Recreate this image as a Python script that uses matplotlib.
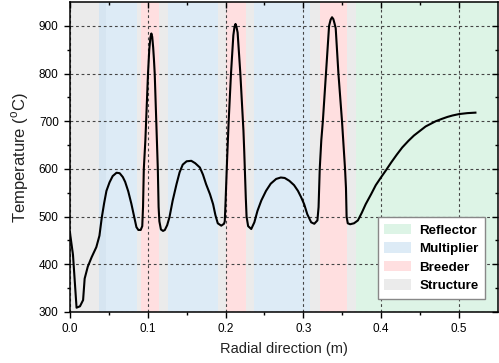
import matplotlib
matplotlib.use("Agg")
import matplotlib.pyplot as plt
from matplotlib.patches import Patch

plt.rcParams['font.family'] = ['Liberation Sans', 'DejaVu Sans']
plt.rcParams['mathtext.fontset'] = 'custom'
plt.rcParams['mathtext.rm'] = 'Liberation Sans'

# === temperature profile ===
radius = [0.000, 0.004, 0.0086, 0.013, 0.017, 0.019, 0.023, 0.028, 0.034, 0.038,
          0.041, 0.044, 0.047, 0.051, 0.055, 0.060, 0.064, 0.068, 0.071, 0.075,
          0.079, 0.083, 0.0855, 0.088, 0.091, 0.093, 0.094, 0.095, 0.097, 0.098,
          0.1004, 0.102, 0.1035, 0.1047, 0.1058, 0.107, 0.108, 0.109, 0.111, 0.113, 0.114,
          0.115, 0.117, 0.1197, 0.122, 0.125, 0.128, 0.132, 0.137, 0.141, 0.145,
          0.150, 0.156, 0.161, 0.167, 0.171, 0.175, 0.180, 0.184, 0.187, 0.190,
          0.1945, 0.198, 0.199, 0.200, 0.202, 0.204, 0.207, 0.210, 0.2115, 0.2128, 0.214,
          0.2155, 0.217, 0.219, 0.221, 0.223, 0.224, 0.226, 0.227, 0.229, 0.233, 0.237,
          0.241, 0.246, 0.252, 0.258, 0.265, 0.271, 0.276, 0.282, 0.288, 0.293,
          0.297, 0.301, 0.305, 0.310, 0.314, 0.318, 0.3195, 0.321, 0.323, 0.325,
          0.329, 0.333, 0.335, 0.3368, 0.3385, 0.340, 0.3415, 0.345, 0.3496, 0.3535,
          0.3547, 0.3555, 0.357, 0.360, 0.365, 0.370, 0.375, 0.380, 0.387, 0.393,
          0.400, 0.406, 0.413, 0.420, 0.427, 0.435, 0.442, 0.449, 0.457, 0.464,
          0.470, 0.478, 0.485, 0.4915, 0.500, 0.5107, 0.521]
temperature = [468, 420, 309, 312, 325, 370, 395, 415, 436, 460,
               498, 528, 554, 572, 585, 592, 591, 583, 573, 553,
               527, 497, 478, 472, 472, 480, 520, 600, 660, 700,
               800, 850, 876, 884, 877, 855, 830, 800, 700, 600, 520,
               490, 473, 470, 472, 482, 499, 533, 568, 593, 609,
               616, 617, 612, 603, 588, 568, 547, 526, 503, 486,
               481, 485, 490, 530, 620, 700, 800, 880, 898, 904, 898,
               886, 850, 800, 740, 680, 637, 540, 500, 480, 474, 488,
               512, 534, 554, 569, 579, 582, 581, 575, 566, 554,
               541, 526, 505, 488, 485, 492, 520, 600, 660, 700,
               800, 900, 913, 918, 914, 905, 895, 800, 700, 600,
               560, 500, 486, 484, 486, 492, 508, 526, 547, 566,
               583, 597, 614, 630, 645, 659, 670, 679, 689, 695,
               700, 705, 709, 712, 715, 717, 718]

# === material zones (start, end, kind) ===
zone_start = [0.000, 0.037, 0.046, 0.086, 0.092, 0.114, 0.126, 0.190, 0.201, 0.226,
              0.237, 0.308, 0.321, 0.356, 0.368]
zone_end = [0.037, 0.046, 0.086, 0.092, 0.114, 0.126, 0.190, 0.201, 0.226, 0.237,
            0.308, 0.321, 0.356, 0.368, 0.550]
zone_kind = ['Structure', 'Multiplier2', 'Multiplier', 'Structure', 'Breeder', 'Structure',
             'Multiplier', 'Structure', 'Breeder', 'Structure', 'Multiplier', 'Structure',
             'Breeder', 'Structure', 'Reflector']

colors = {'Reflector': '#ddf4e6', 'Multiplier': '#ddebf6', 'Multiplier2': '#d6e5f1',
          'Breeder': '#ffdfe0', 'Structure': '#ebebeb'}
legend_order = ['Reflector', 'Multiplier', 'Breeder', 'Structure']

fig = plt.figure(figsize=(4.99, 3.63), dpi=100)
ax = fig.add_axes([0.140, 0.1405, 0.858, 0.854])

for s, e, k in zip(zone_start, zone_end, zone_kind):
    ax.axvspan(s, e, color=colors[k], lw=0, zorder=0)

ax.plot(radius, temperature, color='black', lw=1.5, zorder=3)

ax.set_xlim(0, 0.55)
ax.set_ylim(300, 950)
ax.set_xticks([0.0, 0.1, 0.2, 0.3, 0.4, 0.5])
ax.set_xticks([0.05, 0.15, 0.25, 0.35, 0.45], minor=True)
ax.set_yticks([300, 400, 500, 600, 700, 800, 900])
ax.set_yticks([350, 450, 550, 650, 750, 850], minor=True)
ax.set_xticklabels(['0.0', '0.1', '0.2', '0.3', '0.4', '0.5'])

ax.grid(True, which='major', color='#444444', lw=0.8, ls=(0, (2.5, 2.5)), zorder=1)
ax.set_axisbelow(False)

ax.tick_params(which='both', direction='out', labelsize=8.5, width=1, colors='black')
ax.tick_params(which='major', length=4.5)
ax.tick_params(which='minor', length=2.5)
ax.tick_params(which='both', top=True, right=True)
# top and right ticks point into the plot
for t in ax.xaxis.get_ticklines(minor=False)[1::2] + ax.xaxis.get_ticklines(minor=True)[1::2]:
    t.set_marker(3)
for t in ax.yaxis.get_ticklines(minor=False)[1::2] + ax.yaxis.get_ticklines(minor=True)[1::2]:
    t.set_marker(0)

for sp in ax.spines.values():
    sp.set_linewidth(1.1)
    sp.set_zorder(5)

ax.set_xlabel('Radial direction (m)', fontsize=10.5, color='#222222', labelpad=5)
ax.set_ylabel(r'Temperature ($^{\rm o}$C)', fontsize=12, color='#222222', labelpad=6)

handles = [Patch(facecolor=colors[k], edgecolor='none', label=k) for k in legend_order]
leg = ax.legend(handles=handles, loc='lower right', bbox_to_anchor=(0.97, 0.042),
                borderaxespad=0, fancybox=False, framealpha=1, edgecolor='#888888',
                prop={'weight': 'bold', 'size': 9.6}, handlelength=2.0, handleheight=0.85,
                handletextpad=0.6, labelspacing=0.42, borderpad=0.5)
leg.get_frame().set_linewidth(1.0)
leg.set_zorder(6)

fig.savefig('out.png', dpi=100)
